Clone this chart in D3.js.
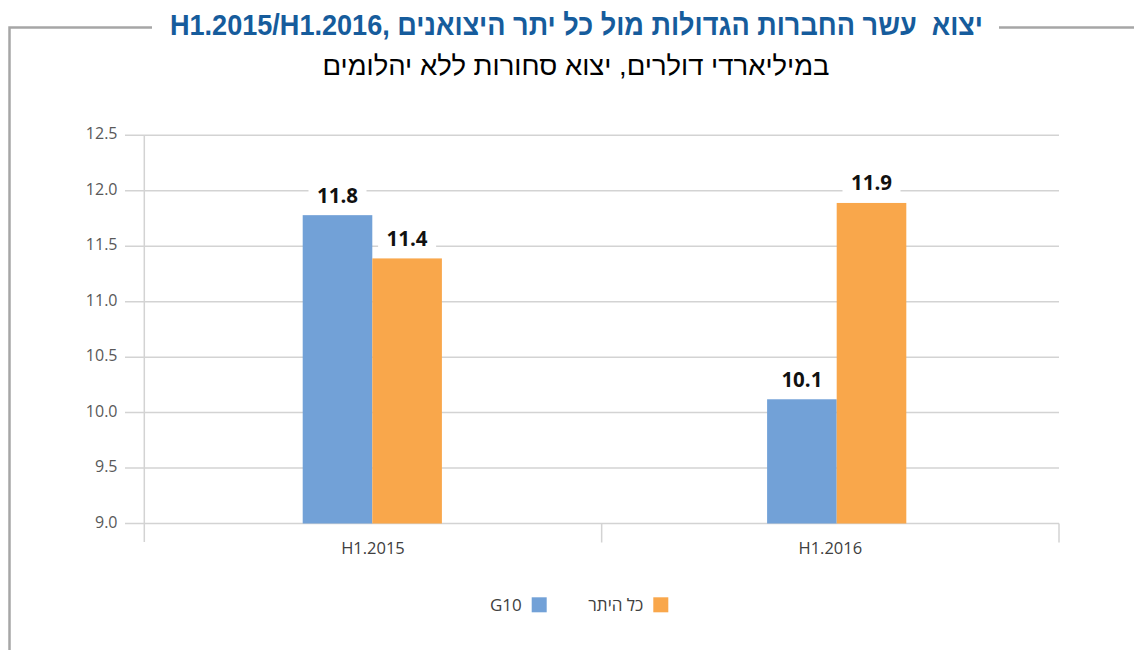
<!DOCTYPE html>
<html><head><meta charset="utf-8">
<script src="https://cdn.jsdelivr.net/npm/d3@7"></script>
<style>
html,body{margin:0;padding:0;background:#fff;}
svg{display:block;}
</style></head>
<body>
<svg id="chart" width="1134" height="650"></svg>
<script>
const titleText = "יצוא  עשר החברות הגדולות מול כל יתר היצואנים ,H1.2015/H1.2016";
const subtitleText = "במיליארדי דולרים, יצוא סחורות ללא יהלומים";
const categories = ["H1.2015", "H1.2016"];
const seriesNames = ["G10", "כל היתר"];
const seriesColors = ["#72a1d7", "#f9a74b"];
const g10Values = [11.78, 10.12];
const otherValues = [11.39, 11.89];
const yTicks = [9.0, 9.5, 10.0, 10.5, 11.0, 11.5, 12.0, 12.5];

const svg = d3.select("#chart");
const font = "'Open Sans', sans-serif";

// frame
const frameColor = "#a6a6a6";
svg.append("path")
  .attr("d", "M9.5,650 L9.5,27.5 L152,27.5")
  .attr("fill", "none").attr("stroke", frameColor).attr("stroke-width", 2.5);
svg.append("line").attr("x1", 999).attr("x2", 1134).attr("y1", 27.5).attr("y2", 27.5)
  .attr("stroke", frameColor).attr("stroke-width", 2.5);

// title
svg.append("text")
  .attr("x", 576.5).attr("y", 35)
  .attr("text-anchor", "middle").attr("direction", "rtl")
  .style("white-space", "pre")
  .attr("font-family", "'Liberation Sans', Arial, sans-serif")
  .attr("font-weight", "bold").attr("font-size", 29.5)
  .attr("fill", "#165c9c")
  .attr("textLength", 813).attr("lengthAdjust", "spacingAndGlyphs")
  .text(titleText);

svg.append("text")
  .attr("x", 576).attr("y", 75)
  .attr("text-anchor", "middle").attr("direction", "rtl")
  .attr("font-family", "'Liberation Sans', Arial, sans-serif")
  .attr("font-size", 27.5)
  .attr("fill", "#000")
  .attr("textLength", 507).attr("lengthAdjust", "spacingAndGlyphs")
  .text(subtitleText);

// scales
const plotLeft = 144.3, plotRight = 1059, gridLeft = 125;
const y = d3.scaleLinear().domain([9, 12.5]).range([523.5, 135.3]);
const xAxisScale = d3.scaleBand().domain(categories).range([plotLeft, plotRight]);
const xBars = d3.scalePoint().domain(categories).range([372.3, 836.7]);
const xSub = d3.scaleBand().domain(seriesNames).range([-69.6, 69.6]);

const gridColor = "#d3d3d3";
svg.append("g").selectAll("line").data(yTicks).join("line")
  .attr("x1", gridLeft).attr("x2", plotRight)
  .attr("y1", d => y(d)).attr("y2", d => y(d))
  .attr("stroke", gridColor).attr("stroke-width", 1.5);
svg.append("g").selectAll("text").data(yTicks).join("text")
  .attr("x", 117.5).attr("y", d => y(d) + 4)
  .attr("text-anchor", "end")
  .attr("font-family", font).attr("font-size", 16).attr("fill", "#595959")
  .text(d => d3.format(".1f")(d));
svg.append("line").attr("x1", plotLeft).attr("x2", plotLeft)
  .attr("y1", y(12.5)).attr("y2", 542)
  .attr("stroke", gridColor).attr("stroke-width", 1.5);
const bandEdges = categories.map(c => xAxisScale(c) + xAxisScale.bandwidth());
svg.append("g").selectAll("line").data(bandEdges).join("line")
  .attr("x1", d => d).attr("x2", d => d)
  .attr("y1", y(9)).attr("y2", 542.5)
  .attr("stroke", gridColor).attr("stroke-width", 1.5);
svg.append("g").selectAll("text").data(categories).join("text")
  .attr("x", d => xAxisScale(d) + xAxisScale.bandwidth() / 2)
  .attr("y", 553.5)
  .attr("text-anchor", "middle")
  .attr("font-family", font).attr("font-size", 16.5).attr("fill", "#404040")
  .text(d => d);

// bars
const seriesData = [g10Values, otherValues];
const barData = [];
seriesNames.forEach((s, si) => {
  categories.forEach((c, ci) => {
    barData.push({ s, si, c, v: seriesData[si][ci] });
  });
});
svg.append("g").selectAll("rect").data(barData).join("rect")
  .attr("x", d => xBars(d.c) + xSub(d.s))
  .attr("width", xSub.bandwidth())
  .attr("y", d => y(d.v))
  .attr("height", d => y(9) - y(d.v))
  .attr("fill", d => seriesColors[d.si]);

// value labels with white background
const lg = svg.append("g");
barData.forEach(d => {
  const cx = xBars(d.c) + xSub(d.s) + xSub.bandwidth() / 2;
  const by = y(d.v) - 12.5;
  lg.append("rect").attr("x", cx - 29).attr("y", by - 18).attr("width", 58).attr("height", 19.8)
    .attr("fill", "#fff");
  lg.append("text").attr("x", cx).attr("y", by)
    .attr("text-anchor", "middle")
    .attr("font-family", font).attr("font-weight", "bold").attr("font-size", 20.5)
    .attr("fill", "#111")
    .text(d3.format(".1f")(d.v));
});

// legend
const legendItems = [
  { name: seriesNames[0], color: seriesColors[0], sq: 531.7 },
  { name: seriesNames[1], color: seriesColors[1], sq: 653.3 }
];
const leg = svg.append("g");
legendItems.forEach(it => {
  leg.append("rect").attr("x", it.sq).attr("y", 597.3).attr("width", 15).attr("height", 15)
    .attr("fill", it.color);
  leg.append("text").attr("x", it.sq - 10).attr("y", 610.5)
    .attr("text-anchor", "end")
    .attr("font-family", font).attr("font-size", 17).attr("fill", "#404040")
    .text(it.name);
});
</script>
</body></html>
